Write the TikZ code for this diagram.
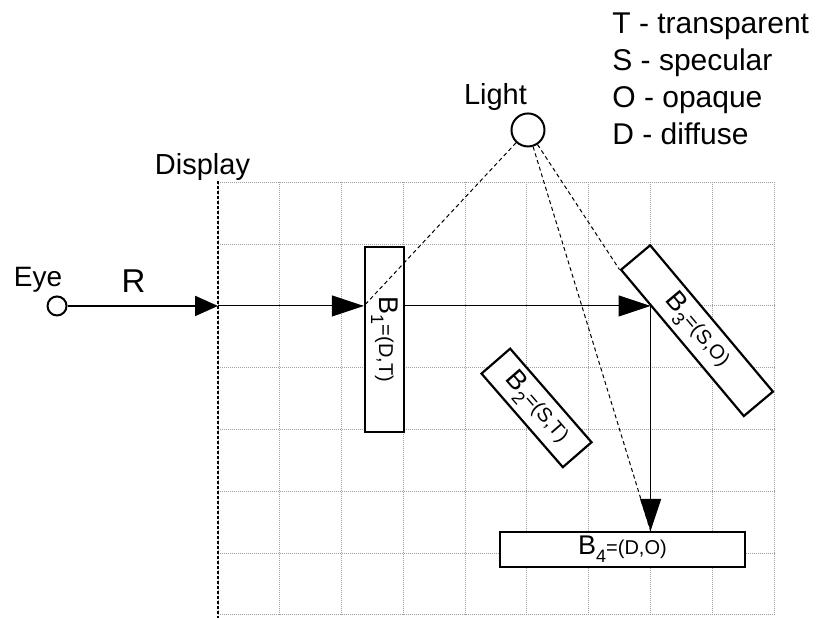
\documentclass[tikz,border=0pt]{standalone}
\usepackage{fontspec}
\setmainfont{Liberation Sans}
\usetikzlibrary{arrows.meta}
\newcommand\blabel[2]{B\raisebox{-4pt}{\fontsize{9pt}{9pt}\selectfont #1}{\fontsize{10pt}{10pt}\selectfont=#2}}

\begin{document}
\begin{tikzpicture}[
  x=30.9pt,y=30.9pt,
  every node/.style={font=\fontsize{14.5pt}{17pt}\selectfont},
  grid line/.style={gray!75,line width=0.5pt,dash pattern=on 0.5pt off 0.5pt},
  display line/.style={line width=1pt,dash pattern=on 1.5pt off 1pt},
  block/.style={rectangle,draw,fill=white,line width=1.1pt,inner sep=0pt,
    font=\fontsize{13.5pt}{14pt}\selectfont},
  point/.style={circle,draw,fill=white,line width=1pt,inner sep=0pt},
  ray/.style={-{Triangle[length=16pt,width=10.5pt]},line width=0.5pt},
  eye ray/.style={-{Triangle[length=11.5pt,width=10pt]},line width=1pt},
  shadow ray/.style={line width=0.5pt,dash pattern=on 2pt off 1.5pt}
]
\useasboundingbox (-3.528,-0.049) rectangle (9.709,9.951);
\draw[grid line,step=1] (0,0) grid (9,7);
\draw[display line] (0,7.02) -- (0,-0.05);
\coordinate (disp) at (0,5);
\coordinate (hit3) at (7,5);
\node[anchor=base,font=\fontsize{14pt}{16pt}\selectfont] (eyelbl) at (-2.913,5.307) {Eye};
\node[anchor=base,font=\fontsize{16.5pt}{18pt}\selectfont] (rlbl) at (-1.367,5.21) {R};
\node[anchor=base] (displbl) at (-0.251,7.12) {Display};
\node[anchor=base] (lightlbl) at (4.49,8.252) {Light};
\node[anchor=north west,inner sep=0pt,align=left,font=\fontsize{15pt}{18.5pt}\selectfont] (legend)
  at (6.375,9.757) {T - transparent\\S - specular\\O - opaque\\D - diffuse};
\node[block,rotate=-90,minimum width=92.5pt,minimum height=19.5pt] (b1) at (2.694,4.458) {\blabel{1}{(D,T)}};
\node[block,rotate=-49,minimum width=62pt,minimum height=19pt] (b2) at (5.154,3.35) {\blabel{2}{(S,T)}};
\node[block,rotate=-50,minimum width=95.5pt,minimum height=19pt] (b3) at (7.751,4.6) {\blabel{3}{(S,O)}};
\node[block,minimum width=122.5pt,minimum height=17.5pt] (b4) at (6.545,1.06) {\blabel{4}{(D,O)}};
\node[point,minimum size=9.5pt] (eye) at (-2.605,5) {};
\node[point,minimum size=16.5pt] (light) at (5.016,7.848) {};
\draw[eye ray] (eye) -- (disp);
\draw[ray] (disp) -- (disp -| b1.south);
\draw[ray] (disp -| b1.north) -- (hit3);
\draw[ray] (hit3) -- (hit3 |- b4.north);
\draw[shadow ray] (light) -- (disp -| b1.south);
\draw[shadow ray] (light) -- (b3.south west);
\draw[shadow ray] (light) -- (hit3 |- b4.north);
\end{tikzpicture}
\end{document}
